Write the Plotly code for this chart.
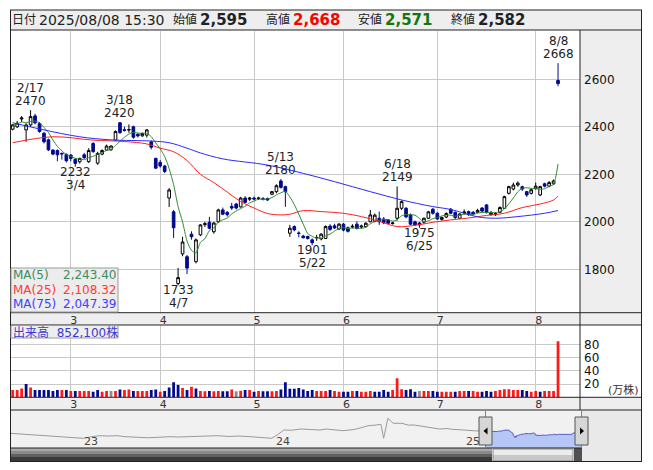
import pandas as pd
import numpy as np
import plotly.graph_objects as go

W, H = 653, 470
FONT = "DejaVu Sans, Noto Sans CJK JP, sans-serif"

# ---------------- data ----------------
holidays = ["2025-02-11", "2025-02-24", "2025-03-20", "2025-04-29",
            "2025-05-05", "2025-05-06", "2025-07-21"]
dates = [d for d in pd.bdate_range("2025-02-10", "2025-08-08")
         if d.strftime("%Y-%m-%d") not in holidays]

open_ = [2390,2400,2433,2387,2408,2446,2414,2373,2345,2302,
         2300,2288,2284,2281,2263,2253,2282,2253,2330,2247,
         2285,2302,2304,2344,2417,2388,2387,2400,2368,2362,
         2365,2337,2267,2250,2235,2100,2042,1740,1865,1853,
         1948,1832,1945,1988,1998,1958,2000,2050,2040,2065,
         2075,2063,2100,2095,2100,2098,2097,2098,2116,2127,
         2172,2148,1952,1980,1953,1940,1938,1924,1932,1928,
         1930,1982,1983,1970,1990,1975,1978,1990,1978,1980,
         2000,2002,2015,2012,2008,1993,2015,2057,2057,2029,
         2000,1995,1998,2015,2053,2036,2010,2020,2053,2040,
         2015,2038,2043,2040,2040,2058,2071,2040,2030,2040,
         2057,2120,2138,2155,2148,2127,2120,2140,2113,2160,
         2150,2160,2595]
high = [2412,2425,2445,2415,2470,2455,2420,2378,2350,2306,
        2305,2292,2288,2285,2268,2270,2290,2310,2335,2295,
        2305,2325,2322,2385,2420,2400,2410,2405,2375,2376,
        2390,2342,2270,2260,2240,2142,2050,1806,1937,1860,
        1960,1930,1990,2000,2021,2000,2055,2060,2045,2080,
        2080,2105,2108,2105,2106,2105,2104,2102,2130,2158,
        2180,2152,1987,1985,1960,1945,1942,1930,1945,1952,
        1985,1990,1992,1995,1995,1980,1990,2002,1988,1998,
        2050,2035,2043,2020,2012,2000,2149,2090,2062,2035,
        2005,2000,2018,2046,2058,2040,2022,2040,2058,2043,
        2036,2052,2047,2045,2055,2062,2075,2045,2040,2065,
        2110,2152,2165,2170,2152,2130,2140,2165,2152,2165,
        2172,2178,2668]
low = [2385,2395,2420,2337,2400,2410,2375,2330,2298,2280,
       2255,2262,2250,2255,2232,2245,2265,2248,2290,2240,
       2280,2298,2298,2340,2370,2380,2375,2350,2355,2358,
       2355,2305,2222,2228,2205,2062,1932,1733,1855,1780,
       1925,1825,1940,1978,1968,1950,1995,2028,2022,2050,
       2052,2060,2078,2088,2090,2092,2090,2088,2112,2120,
       2140,2063,1937,1960,1935,1930,1925,1901,1920,1922,
       1928,1962,1970,1965,1960,1955,1972,1968,1972,1975,
       1998,1998,1987,1990,1990,1988,2005,2050,2015,1985,
       1982,1975,1992,2012,2030,2008,2005,2016,2032,2012,
       2012,2030,2025,2028,2036,2040,2035,2026,2025,2036,
       2055,2115,2132,2148,2130,2105,2115,2135,2108,2145,
       2145,2155,2571]
close = [2408,2415,2437,2408,2443,2417,2380,2337,2303,2285,
         2282,2286,2257,2267,2246,2267,2270,2300,2296,2288,
         2300,2319,2319,2380,2376,2385,2388,2356,2362,2372,
         2387,2314,2226,2235,2212,2134,1975,1765,1915,1805,
         1937,1924,1987,1992,1973,1995,2050,2032,2030,2058,
         2058,2100,2082,2100,2096,2100,2095,2092,2127,2152,
         2145,2127,1973,1966,1951,1933,1930,1912,1934,1948,
         1980,1968,1974,1990,1965,1960,1981,1972,1982,1994,
         2029,2028,2000,1996,1994,1995,2057,2085,2021,1990,
         1987,1987,2015,2042,2036,2012,2018,2035,2036,2018,
         2033,2041,2030,2033,2048,2045,2040,2030,2034,2060,
         2106,2148,2155,2163,2138,2113,2135,2150,2148,2150,
         2165,2172,2582]
volume = [11,11,13.5,20,15,11,11,11,11,9.5,
          11,11,11,9.5,9.5,9.5,9.5,9.5,8.5,11,
          8.5,9.5,9.5,9.5,12,11,12,9.5,9.5,9.5,
          9.5,11,12,8.5,9.5,15,23,18.7,14,11,
          16,13.5,9.5,9,9.5,9,9.5,9,9,12,
          9,10,11,11,8.5,9.5,9,9,9,9.5,
          12,23,13,13,14,12,9.5,11,9.5,9.6,
          9.6,11,9.6,8.6,8.6,8.6,9.6,9.6,8.6,8.6,
          9.6,8.6,8.6,11,8.6,11,29,12.1,11,12.1,
          8.6,9.6,9.6,9.6,9.6,8.6,8.6,8.6,8.6,8.6,
          9.6,9.6,9.6,9.6,8.6,8.6,9.6,8.6,9.6,11,
          12.1,12.1,11,11,11,9.6,8.6,9.6,8.6,9.6,
          9.6,9.6,85.21]   # 万株

ma25_idx = [0,9,18,25,30,33,36,39,42,45,48,51,54,57,60,62,65,69,74,78,82,86,90,94,98,102,106,110,114,118,121,122]
ma25_val = [2333,2358,2344,2338,2328,2310,2295,2258,2200,2165,2125,2085,2058,2035,2029,2032,2047,2043,2036,2022,2002,1980,1985,1998,2008,2016,2027,2036,2060,2075,2092,2108.32]
ma75_idx = [0,7,15,22,31,35,39,42,47,57,65,72,80,87,94,98,104,108,113,119,122]
ma75_val = [2417,2387,2358,2345,2340,2333,2310,2290,2265,2239,2204,2169,2127,2092,2064,2052,2021,2015,2022,2036,2047.39]

nav_dates = ["2022-09-09","2022-09-30","2022-10-21","2022-11-06","2022-11-25","2022-12-15",
             "2023-01-05","2023-01-23","2023-02-08","2023-02-23","2023-03-10","2023-03-27",
             "2023-04-11","2023-05-02","2023-05-23","2023-06-13","2023-07-04","2023-07-20",
             "2023-08-06","2023-08-25","2023-09-12","2023-09-30","2023-10-20","2023-11-10",
             "2023-12-01","2023-12-20","2024-01-09","2024-01-20","2024-02-01","2024-02-15",
             "2024-03-04","2024-03-22","2024-04-08","2024-04-20","2024-05-06","2024-05-21",
             "2024-06-03","2024-06-13","2024-06-25","2024-07-07","2024-07-20","2024-07-31",
             "2024-08-05","2024-08-13","2024-08-23","2024-09-08","2024-09-20","2024-10-01",
             "2024-10-17","2024-11-01","2024-11-17","2024-12-01","2024-12-10","2024-12-25",
             "2025-01-10","2025-01-26","2025-02-07"]
nav_vals = [2128,2060,2010,1988,1900,1848,
            1780,1716,1850,1930,1900,1930,
            1848,1790,1760,1800,1848,1823,
            1848,1880,1900,1930,1870,1900,
            1848,1800,1716,2000,2400,2380,
            2482,2440,2400,2482,2420,2342,
            2400,2458,2600,2754,2800,2870,
            1716,3365,2952,2952,2800,2812,
            2700,2600,2482,2520,2458,2420,
            2400,2318,2380]

nav_years = ["23", "24", "25"]

# ---------------- helpers ----------------
def px(x): return x / W
def py(y): return 1 - y / H

shapes, annots = [], []

def rect(x0, y0, x1, y1, fill=None, line=None, lw=1, layer="below"):
    shapes.append(dict(type="rect", xref="paper", yref="paper",
                       x0=px(x0), x1=px(x1), y0=py(y1), y1=py(y0),
                       fillcolor=fill if fill else "rgba(0,0,0,0)",
                       line=dict(color=line if line else "rgba(0,0,0,0)", width=lw if line else 0),
                       layer=layer))

def seg(x0, y0, x1, y1, color="#222222", lw=1, layer="above"):
    shapes.append(dict(type="line", xref="paper", yref="paper",
                       x0=px(x0), x1=px(x1), y0=py(y0), y1=py(y1),
                       line=dict(color=color, width=lw), layer=layer))

def poly(pts, fill):
    path = "M " + " L ".join(f"{px(a)},{py(b)}" for a, b in pts) + " Z"
    shapes.append(dict(type="path", xref="paper", yref="paper", path=path,
                       fillcolor=fill, line=dict(width=0), layer="above"))

def text(x, y, s, size=12, color="#222222", xanchor="left"):
    annots.append(dict(xref="paper", yref="paper", x=px(x), y=py(y), text=s,
                       showarrow=False, xanchor=xanchor, yanchor="middle",
                       font=dict(family=FONT, size=size, color=color)))

# ---------------- traces ----------------
n = len(dates)
idx = list(range(n))
fig = go.Figure()

fig.add_trace(go.Candlestick(
    x=idx, open=open_, high=high, low=low, close=close, xaxis="x", yaxis="y",
    increasing=dict(line=dict(color="#000000", width=1), fillcolor="#ffffff"),
    decreasing=dict(line=dict(color="#000a8a", width=1), fillcolor="#000a8a"),
    whiskerwidth=0, hoverinfo="skip", showlegend=False))

ma5 = pd.Series(close, dtype=float).rolling(5, min_periods=1).mean()
fig.add_trace(go.Scatter(x=idx, y=ma5, mode="lines", xaxis="x", yaxis="y",
                         line=dict(color="#2e8b2e", width=1, shape="spline", smoothing=0.6),
                         hoverinfo="skip", showlegend=False))
fig.add_trace(go.Scatter(x=ma25_idx, y=ma25_val, mode="lines", xaxis="x", yaxis="y",
                         line=dict(color="#ff2020", width=1, shape="spline"),
                         hoverinfo="skip", showlegend=False))
fig.add_trace(go.Scatter(x=ma75_idx, y=ma75_val, mode="lines", xaxis="x", yaxis="y",
                         line=dict(color="#2a2aff", width=1, shape="spline"),
                         hoverinfo="skip", showlegend=False))

vol_colors = []
for i, c in enumerate(close):
    prev = close[i - 1] if i > 0 else open_[0]
    vol_colors.append("#ff1a1a" if c > prev else ("#000a8a" if c < prev else "#8c8c8c"))
fig.add_trace(go.Bar(x=idx, y=volume, width=0.62, xaxis="x2", yaxis="y2",
                     marker=dict(color=vol_colors, line=dict(width=0)),
                     hoverinfo="skip", showlegend=False))

fig.add_trace(go.Scatter(x=nav_dates, y=nav_vals, mode="lines", xaxis="x3", yaxis="y3",
                         line=dict(color="#9a9a9a", width=1), hoverinfo="skip", showlegend=False))
fig.add_trace(go.Scatter(x=dates, y=close, mode="lines", xaxis="x3", yaxis="y3",
                         line=dict(color="#5a5ac8", width=1), fill="tozeroy", fillcolor="#b6c6f6",
                         hoverinfo="skip", showlegend=False))

# ---------------- axes ----------------
months = [d.month for d in dates]
month_idx = [i for i in range(1, n) if months[i] != months[i - 1]]
month_txt = [str(months[i]) for i in month_idx]

x_left, x_right = 11, 580
step = 4.47
first_c = 12.7
xr = [(x_left - first_c) / step, (x_right - first_c) / step]

ppd = 96 / 179.0
nav_range = [(dates[0] - pd.Timedelta(days=(485 - 10) / ppd)).strftime("%Y-%m-%d %H:%M"),
             (dates[-1] + pd.Timedelta(days=(582 - 581) / ppd)).strftime("%Y-%m-%d %H:%M")]

common_x = dict(range=xr, tickmode="array", tickvals=month_idx, ticktext=month_txt,
                showgrid=True, gridcolor="#c9c9c9", gridwidth=1, zeroline=False,
                showline=False, ticks="", ticklabelshift=3, ticklabelstandoff=-1,
                tickfont=dict(family=FONT, size=11, color="#333333"), fixedrange=True)

fig.update_layout(
    width=W, height=H, margin=dict(l=0, r=0, t=0, b=0),
    paper_bgcolor="white", plot_bgcolor="white", showlegend=False, hovermode=False,
    font=dict(family=FONT), boxgap=0.15,
    xaxis=dict(domain=[px(11), px(580)], anchor="y", rangeslider=dict(visible=False), **common_x),
    yaxis=dict(domain=[py(312.7), py(31)], range=[1617.3, 2803.4], side="right", anchor="x",
               tickvals=[1800, 2000, 2200, 2400, 2600], ticks="", ticklabelstandoff=3,
               showgrid=True, gridcolor="#c9c9c9", zeroline=False, showline=False,
               tickfont=dict(family=FONT, size=12, color="#111111"), fixedrange=True),
    xaxis2=dict(domain=[px(11), px(580)], anchor="y2", **common_x),
    yaxis2=dict(domain=[py(397.3), py(325)], range=[0, 109.7], side="right", anchor="x2",
                tickvals=[20, 40, 60, 80], ticks="", ticklabelstandoff=3,
                showgrid=True, gridcolor="#c9c9c9", zeroline=False, showline=False,
                tickfont=dict(family=FONT, size=12, color="#111111"), fixedrange=True),
    xaxis3=dict(domain=[px(10), px(582)], anchor="y3", type="date", range=nav_range,
                showgrid=False, showticklabels=False, zeroline=False, showline=False, ticks=""),
    yaxis3=dict(domain=[py(448), py(411)], range=[916, 3966], visible=False),
)

# ---------------- backgrounds / frames ----------------
rect(10, 10, 642, 30, fill="#eeeeee")
rect(580, 30, 642, 312.7, fill="#eeeeee")
rect(10, 312.7, 642, 325, fill="#eeeeee")
rect(10, 397.3, 642, 410, fill="#eeeeee")
rect(10, 410, 582, 448, fill="#f1f1f1")
rect(582, 410, 642, 462, fill="#e9e9e9")
# scrollbar
rect(10, 448, 492, 451, fill="#a9a9a9")
rect(10, 451, 492, 454, fill="#8a8a8a")
rect(10, 454, 492, 457, fill="#606060")
rect(10, 457, 492, 461.5, fill="#3a3a3a")
rect(493, 449, 573, 455, fill="#ececec")
rect(493, 455, 573, 461, fill="#c8c8c8")
rect(493, 449, 573, 461, line="#8a8a8a")
rect(574, 448, 582, 461.5, fill="#505050")

# frame lines
for y in (10, 30, 312.7, 325, 397.3, 410, 461.5):
    seg(10, y, 642, y)
seg(10, 448, 582, 448)
seg(10.5, 10, 10.5, 462)
seg(641.5, 10, 641.5, 462)
seg(580, 30, 580, 410)

# legend box and volume label box
rect(11, 268, 118, 312, fill="#ececec", line="#9a9a9a", layer="above")
rect(11, 325.5, 118, 338, fill="#eeeeee", line="#9a9a9a", layer="above")

# navigator handles
seg(485.5, 410, 485.5, 448, color="#2aa0d8")
seg(581.5, 410, 581.5, 448, color="#2aa0d8")
rect(479, 417, 492, 445, fill="#d6d6d6", line="#555555", layer="above")
rect(575, 417, 588, 445, fill="#d6d6d6", line="#555555", layer="above")
poly([(483.5, 431), (487.5, 427.5), (487.5, 434.5)], "#000000")
poly([(584, 431), (580, 427.5), (580, 434.5)], "#000000")

# ---------------- texts ----------------
text(10, 20, "日付", 12)
text(37, 20, dates[-1].strftime("%Y/%m/%d") + " 15:30", 14)
text(171, 20, "始値", 12)
text(198, 20, f"<b>{open_[-1]:,}</b>", 15)
text(264, 20, "高値", 12)
text(291, 20, f"<b>{high[-1]:,}</b>", 15, "#ff0000")
text(356, 20, "安値", 12)
text(383, 20, f"<b>{low[-1]:,}</b>", 15, "#117711")
text(449, 20, "終値", 12)
text(476, 20, f"<b>{close[-1]:,}</b>", 15)

ma_rows = [("MA(5)", ma5.iloc[-1], "#3c8c5c", 275),
           ("MA(25)", ma25_val[-1], "#ff3a3a", 290),
           ("MA(75)", ma75_val[-1], "#4040ff", 304)]
for lab, val, col, yy in ma_rows:
    text(11, yy, lab, 12, col)
    text(118, yy, f"{val:,.2f}", 12, col, xanchor="right")

text(11, 332.5, f"出来高  {int(round(volume[-1] * 10000)):,}株", 12, "#3a3acc")
text(623, 390, "(万株)", 11, "#333333", xanchor="center")

for lab, xx in zip(nav_years, (91, 283, 473)):
    text(xx, 441, lab, 11, "#444444", xanchor="center")

# high / low markers
marks = [(4, "high"), (24, "high"), (14, "low"), (37, "low"), (60, "high"),
         (67, "low"), (86, "high"), (91, "low"), (122, "high")]
for i, kind in marks:
    d = dates[i]
    dlab = f"{d.month}/{d.day}"
    if kind == "high":
        v, ys_v, ys_d, anc = high[i], 0, 13, "bottom"
    else:
        v, ys_v, ys_d, anc = low[i], 4, -9, "top"
    for s, ys in ((str(v), ys_v), (dlab, ys_d)):
        annots.append(dict(xref="x", yref="y", x=i, y=v, text=s, showarrow=False,
                           xanchor="center", yanchor=anc, yshift=ys,
                           font=dict(family=FONT, size=12, color="#222222")))

fig.update_layout(shapes=shapes, annotations=annots)
fig.write_html("out.html", config={"displayModeBar": False},
               post_script="document.body.style.margin='0px';document.body.style.padding='0px';")
